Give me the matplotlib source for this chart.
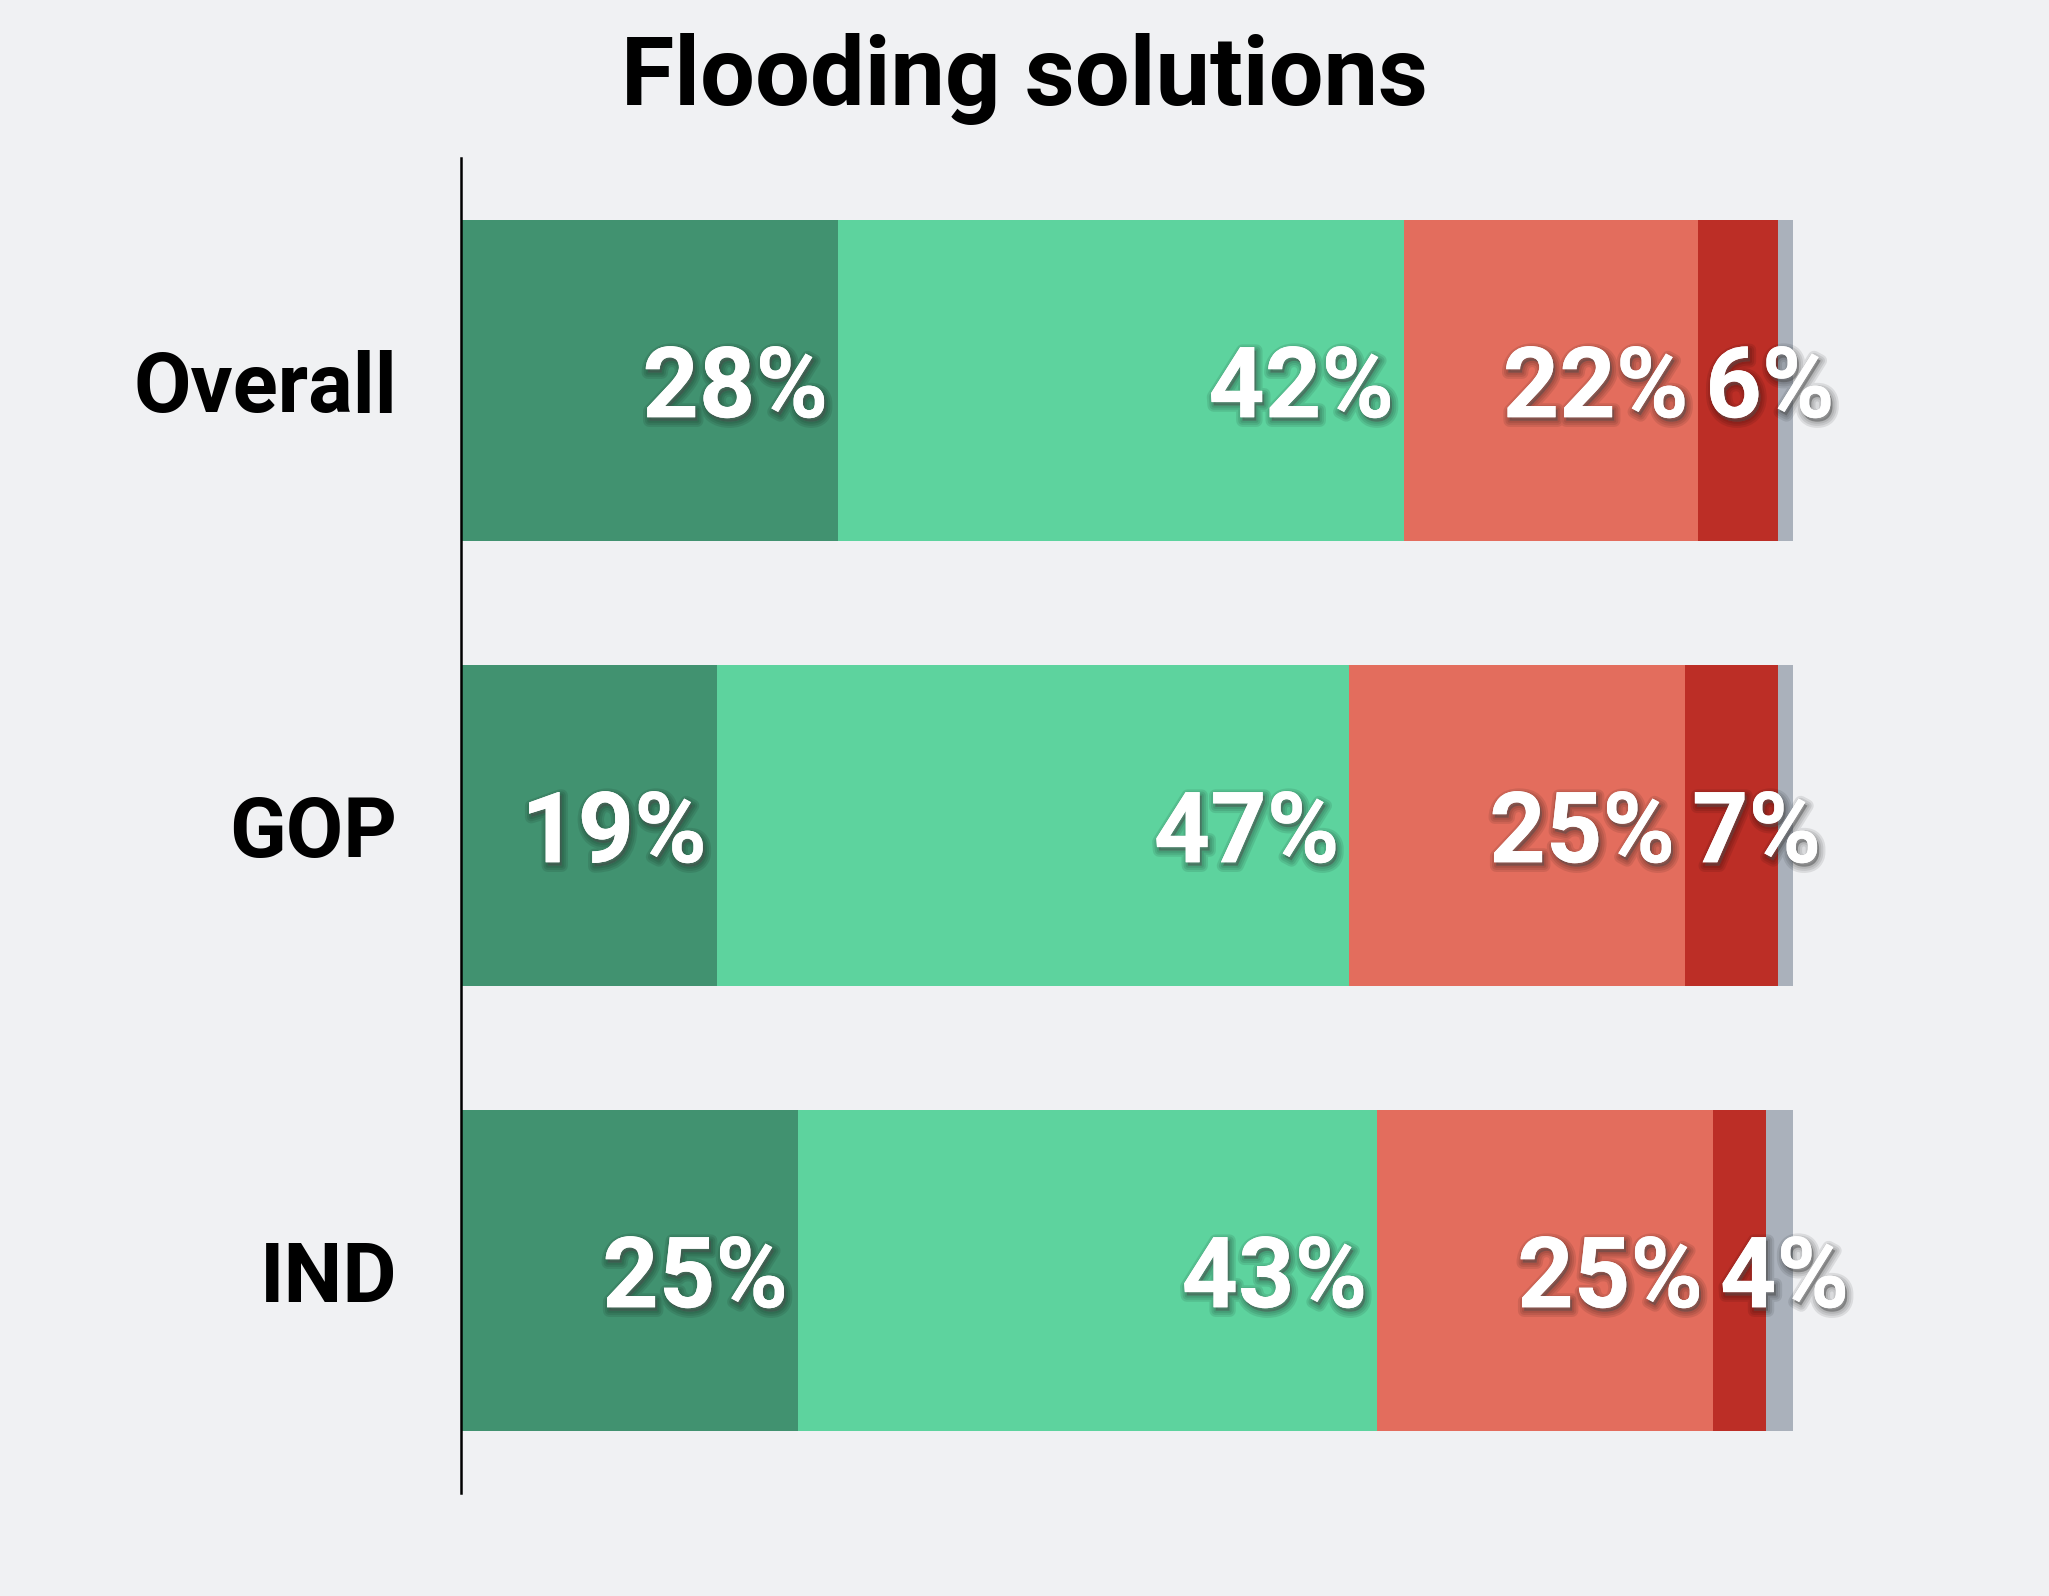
import matplotlib.pyplot as plt
import matplotlib.patheffects as pe
import numpy as np

# survey shares
groups = ['Overall', 'GOP', 'IND']
strong_yes = [28.3, 19.2, 25.3]
yes = [42.5, 47.5, 43.5]
no = [22.1, 25.2, 25.2]
strong_no = [6.0, 7.0, 4.0]
unsure = [1.1, 1.1, 2.0]

# labels shown on the bars
labels_strong_yes = ['28%', '19%', '25%']
labels_yes = ['42%', '47%', '43%']
labels_no = ['22%', '25%', '25%']
labels_strong_no = ['6%', '7%', '4%']

colors = ['#419270', '#5dd39e', '#e36d5d', '#bc2e26', '#aab1bb']
bg = '#f0f1f3'

series = [strong_yes, yes, no, strong_no, unsure]
series_labels = [labels_strong_yes, labels_yes, labels_no, labels_strong_no, None]

fig = plt.figure(figsize=(20.49, 15.96), dpi=100, facecolor=bg)
ax = fig.add_axes([0.225, 0.0645, 0.650, 0.8365])
ax.set_facecolor(bg)

y = np.arange(len(groups))
left = np.zeros(len(groups))

# soft drop shadow behind the white numbers
shadow = [pe.Stroke(linewidth=lw, foreground='black', alpha=0.09, offset=(1.5, -2.5))
          for lw in (9, 6, 3)]
shadow += [pe.withSimplePatchShadow(offset=(1.5, -2.5), shadow_rgbFace='black', alpha=0.3),
           pe.Normal()]

for vals, labs, col in zip(series, series_labels, colors):
    vals = np.array(vals)
    ax.barh(y, vals, left=left, height=0.72, color=col, linewidth=0)
    if labs is not None:
        for i in range(len(groups)):
            if vals[i] >= 10:
                xy, off, ha = (left[i] + vals[i], y[i]), (-7, -7), 'right'
            else:
                xy, off, ha = (left[i], y[i]), (5, -7), 'left'
            ax.annotate(labs[i], xy, xytext=off, textcoords='offset points',
                        ha=ha, va='center', fontsize=71, fontweight='bold',
                        family='Roboto', color='white', path_effects=shadow,
                        annotation_clip=False)
    left += vals

ax.set_xlim(0, 100)
ax.set_ylim(2.5, -0.5)
ax.set_yticks(y)
ax.set_yticklabels(groups, fontsize=60, fontweight='bold', family='Roboto')
ax.tick_params(axis='y', length=0, pad=46)
ax.set_xticks([])
for s in ['top', 'right', 'bottom']:
    ax.spines[s].set_visible(False)
ax.spines['left'].set_linewidth(1.8)
ax.spines['left'].set_color('black')

fig.text(0.5, 0.934, 'Flooding solutions', ha='center', va='baseline',
         fontsize=70, fontweight='bold', family='Roboto')

plt.savefig('out.png', dpi=100, facecolor=bg)
